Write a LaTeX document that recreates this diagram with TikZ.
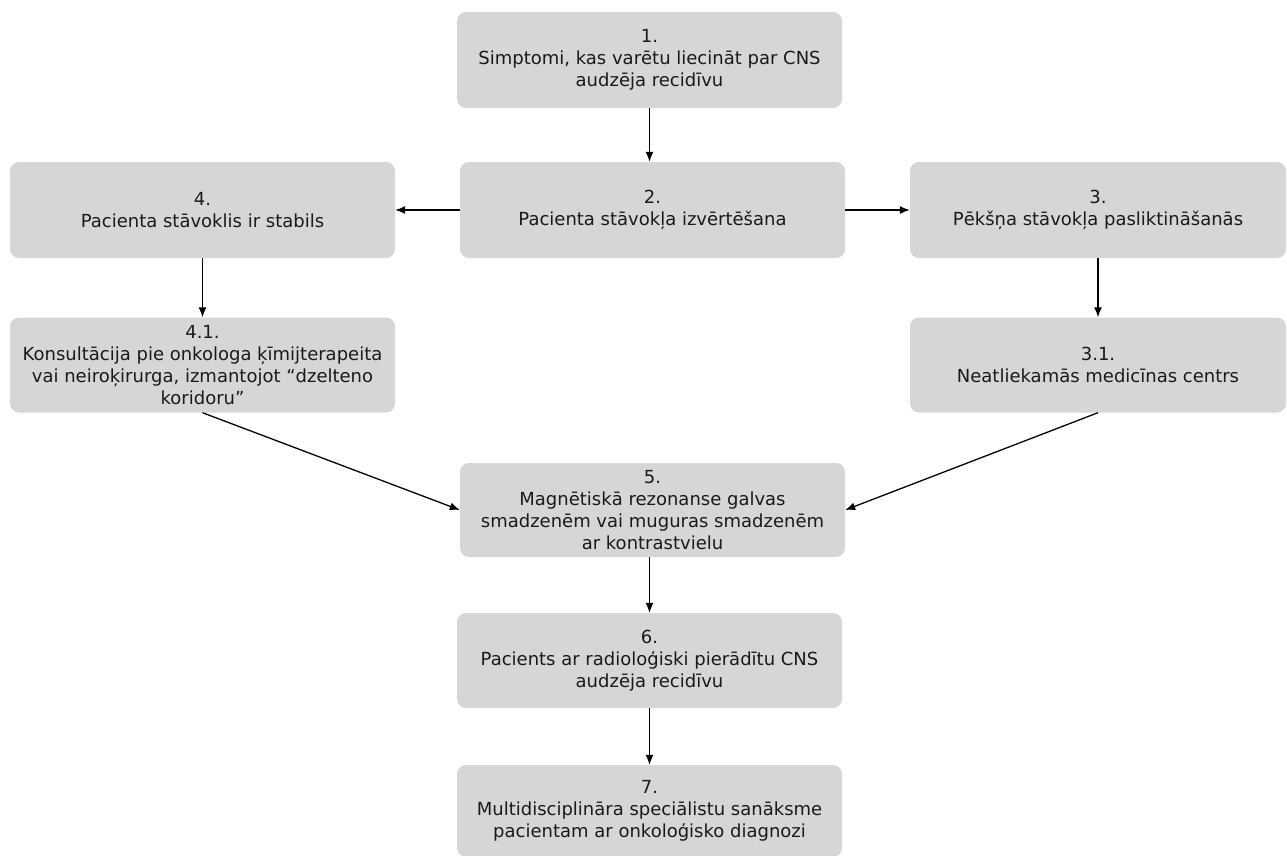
\documentclass[tikz,border=0pt]{standalone}
\usepackage{fontspec}
\setmainfont{DejaVu Sans}
\usetikzlibrary{arrows.meta,positioning}

\definecolor{boxgray}{HTML}{D6D6D6}
\definecolor{textdark}{HTML}{1A1A1A}

\tikzset{
  stepbox/.style={rectangle, rounded corners=9pt, fill=boxgray, text=textdark,
    align=center, minimum width=385pt, minimum height=96pt, inner sep=0pt,
    font=\fontsize{18}{22}\selectfont},
  sidebox/.style={stepbox, minimum width=376pt},
  flow/.style={-{Latex[length=10pt,width=8pt]}, line width=1.3pt, black}
}

\begin{document}
\begin{tikzpicture}[x=1pt,y=-1pt]
\useasboundingbox (0,0) rectangle (1287,855);

\node[stepbox] (n1) at (649.5,60) {1.\\Simptomi, kas varētu liecināt par CNS\\audzēja recidīvu};
\node[stepbox] (n2) at (652.5,210) {2.\\Pacienta stāvokļa izvērtēšana};
\node[stepbox] (n4) at (202.5,210) {4.\\Pacienta stāvoklis ir stabils};
\node[sidebox] (n3) at (1098,210) {3.\\Pēkšņa stāvokļa pasliktināšanās};
\node[stepbox, minimum height=95pt] (n41) at (202.5,365) {4.1.\\Konsultācija pie onkologa ķīmijterapeita\\vai neiroķirurga, izmantojot “dzelteno\\koridoru”};
\node[sidebox, minimum height=95pt] (n31) at (1098,365) {3.1.\\Neatliekamās medicīnas centrs};
\node[stepbox, minimum height=94pt] (n5) at (652.5,510) {5.\\Magnētiskā rezonanse galvas\\smadzenēm vai muguras smadzenēm\\ar kontrastvielu};
\node[stepbox, minimum height=95pt] (n6) at (649.5,660.5) {6.\\Pacients ar radioloģiski pierādītu CNS\\audzēja recidīvu};
\node[stepbox, minimum height=92pt] (n7) at (649.5,811) {7.\\Multidisciplināra speciālistu sanāksme\\pacientam ar onkoloģisko diagnozi};

% connectors
\draw[flow] (n1.south) -- (n1.south |- n2.north);
\draw[flow] (n2.west) -- (n4.east);
\draw[flow] (n2.east) -- (n3.west);
\draw[flow] (n4.south) -- (n41.north);
\draw[flow] (n3.south) -- (n31.north);
\draw[flow] (n41.south) -- (n5.west);
\draw[flow] (n31.south) -- (n5.east);
\draw[flow] (n5.south -| n6.north) -- (n6.north);
\draw[flow] (n6.south) -- (n7.north);
\end{tikzpicture}
\end{document}
